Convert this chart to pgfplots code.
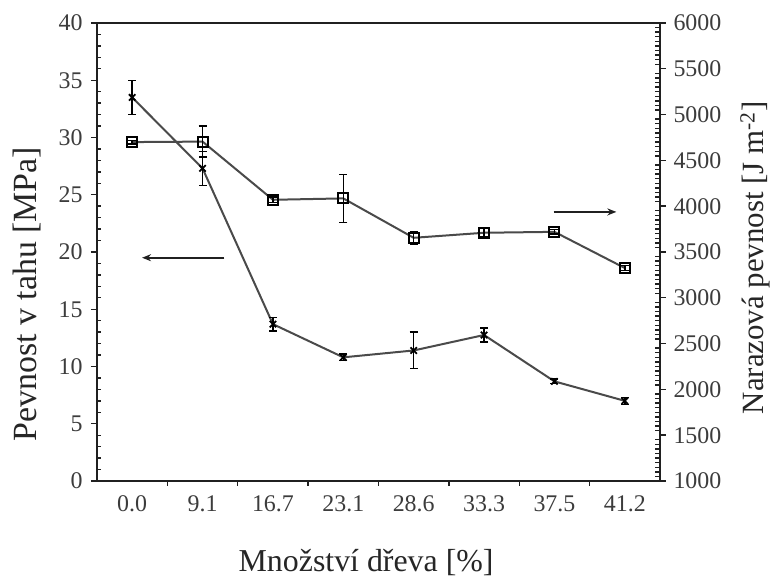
\documentclass[border=0pt]{standalone}
\usepackage{fontspec}
\setmainfont{Liberation Serif}
\usepackage{pgfplots}
\pgfplotsset{compat=1.18}
\usetikzlibrary{arrows.meta}
\definecolor{lc}{HTML}{4A4A4A}
\definecolor{tc}{HTML}{3C3C3C}
\definecolor{ax}{HTML}{202020}
\begin{document}
\begin{tikzpicture}
\useasboundingbox (-97bp,-97bp) rectangle (684bp,481bp);
\begin{axis}[
  at={(0,0)}, anchor=south west,
  scale only axis, width=563bp, height=458bp,
  xmin=-0.5, xmax=7.5, ymin=0, ymax=40,
  xtick={0,...,7},
  xticklabels={0.0,9.1,16.7,23.1,28.6,33.3,37.5,41.2},
  minor xtick={0.5,1.5,...,6.5},
  ytick={0,5,...,40}, minor y tick num=4,
  xtick pos=bottom, ytick pos=left,
  tick align=outside,
  major tick length=6bp, minor tick length=4.5bp,
  every major x tick/.append style={draw=none},
  every minor y tick/.append style={xshift=4.5bp},
  every tick/.append style={line width=1.4bp, ax},
  axis line style={line width=2.2bp, ax},
  tick label style={font=\fontsize{24}{27}\selectfont, text=tc},
  yticklabel style={xshift=-5bp},
  xticklabel style={yshift=-5bp},
  /pgf/number format/assume math mode=true,
  every axis y label/.style={at={(axis description cs:-0.124,0.408)}, rotate=90, anchor=center, font=\fontsize{34}{38}\selectfont, text=black!85},
  every axis x label/.style={at={(axis description cs:0.478,-0.179)}, anchor=center, font=\fontsize{32}{36}\selectfont, text=black!85},
  xlabel={Množství dřeva [\%]},
  ylabel={Pevnost v tahu [MPa]},
  clip=false,
]
\addplot[lc, line width=2bp, mark=x, mark size=4.5bp,
  mark options={black, line width=1.8bp},
  error bars/.cd, y dir=both, y explicit,
  error bar style={black, line width=1.4bp},
  error mark options={rotate=90, mark size=4bp, black, line width=1.4bp}]
coordinates {
(0,33.5) +- (0,1.5)
(1,27.3) +- (0,1.5)
(2,13.7) +- (0,0.6)
(3,10.8) +- (0,0.3)
(4,11.4) +- (0,1.6)
(5,12.75) +- (0,0.6)
(6,8.7) +- (0,0.2)
(7,7.0) +- (0,0.3)
};
\draw[line width=1.8bp, ax, -{Stealth[length=9bp,width=7bp]}] (axis cs:1.31,19.5) -- (axis cs:0.14,19.5);
\draw[line width=1.8bp, ax, -{Stealth[length=9bp,width=7bp]}] (axis cs:5.99,23.5) -- (axis cs:6.88,23.5);
\end{axis}
\begin{axis}[
  at={(0,0)}, anchor=south west,
  scale only axis, width=563bp, height=458bp,
  xmin=-0.5, xmax=7.5, ymin=1000, ymax=6000,
  axis x line=none, axis y line*=right,
  ytick={1000,1500,...,6000}, minor y tick num=9,
  tick align=outside,
  major tick length=6bp, minor tick length=4.5bp,
  every minor y tick/.append style={xshift=-4.5bp},
  every tick/.append style={line width=1.4bp, ax},
  axis line style={line width=2.2bp, ax},
  tick label style={font=\fontsize{24}{27}\selectfont, text=tc},
  yticklabel style={xshift=4bp},
  /pgf/number format/assume math mode=true,
  /pgf/number format/1000 sep={},
  every axis y label/.style={at={(axis description cs:1.169,0.487)}, rotate=90, anchor=center, font=\fontsize{31}{35}\selectfont, text=black!85},
  ylabel={Narazová pevnost [J m\textsuperscript{-2}]},
  clip=false,
]
\addplot[lc, line width=2bp, mark=square, mark size=5bp,
  mark options={black, line width=2bp, fill=white},
  error bars/.cd, y dir=both, y explicit,
  error bar style={black, line width=1.4bp},
  error mark options={rotate=90, mark size=4bp, black, line width=1.4bp}]
coordinates {
(0,4700) +- (0,20)
(1,4705) +- (0,170)
(2,4070) +- (0,30)
(3,4085) +- (0,260)
(4,3655) +- (0,70)
(5,3710) +- (0,45)
(6,3720) +- (0,25)
(7,3325) +- (0,25)
};
\end{axis}
\end{tikzpicture}
\end{document}
